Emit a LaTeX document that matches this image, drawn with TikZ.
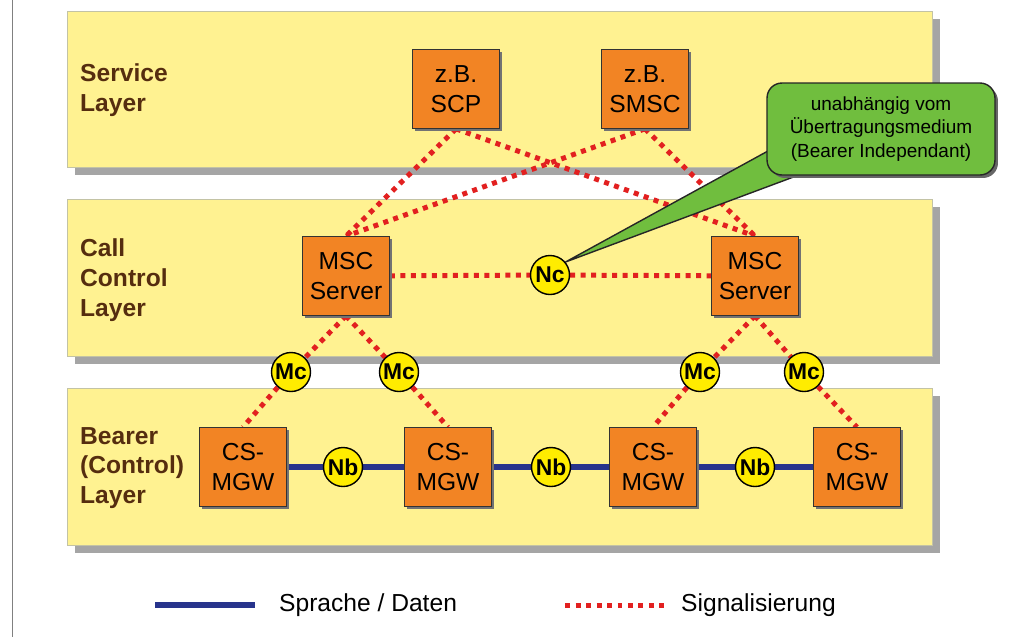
\documentclass[tikz,border=0pt]{standalone}
\usepackage{fontspec}
\setmainfont{Liberation Sans}
\usepackage{tikz}
\usetikzlibrary{shadows,calc}
\definecolor{LayerYellow}{RGB}{255,242,145}
\definecolor{LayerEdge}{RGB}{195,195,165}
\definecolor{ShadowGray}{RGB}{165,165,165}
\definecolor{BoxOrange}{RGB}{242,132,36}
\definecolor{SigRed}{RGB}{226,32,32}
\definecolor{DataBlue}{RGB}{40,52,140}
\definecolor{IfYellow}{RGB}{255,236,0}
\definecolor{NoteGreen}{RGB}{112,190,62}
\definecolor{LabelBrown}{RGB}{85,45,15}
\pgfdeclarelayer{back}
\pgfdeclarelayer{mid}
\pgfsetlayers{back,mid,main}

\begin{document}
\begin{tikzpicture}[x=0.02cm,y=-0.02cm,
  layer/.style={fill=LayerYellow, draw=LayerEdge,
    drop shadow={shadow xshift=0.16cm, shadow yshift=-0.16cm, fill=ShadowGray, opacity=1}},
  layerlabel/.style={anchor=west, align=left, text=LabelBrown,
    font=\bfseries\fontsize{14}{17}\selectfont},
  netbox/.style={rectangle, draw=black!80, fill=BoxOrange, minimum width=1.74cm,
    minimum height=1.58cm, inner sep=0pt, align=center, font=\fontsize{14}{17}\selectfont,
    drop shadow={shadow xshift=0.05cm, shadow yshift=-0.05cm, fill=black!55, opacity=1}},
  iface/.style={circle, draw=black, thick, fill=IfYellow, minimum size=0.78cm, inner sep=0pt,
    font=\bfseries\fontsize{13}{15}\selectfont},
  sig/.style={SigRed, line width=0.1cm, dash pattern=on 0.1cm off 0.11cm},
  data/.style={DataBlue, line width=0.12cm},
  note/.style={rectangle, rounded corners=0.3cm, draw=black!85, thick, fill=NoteGreen,
    minimum width=4.56cm, minimum height=1.84cm, align=center,
    font=\fontsize{10.8}{13.6}\selectfont,
    drop shadow={shadow xshift=0.06cm, shadow yshift=-0.06cm, fill=black!60, opacity=1}}]
\useasboundingbox (0,0) rectangle (1017,637);
\draw[gray] (12,0) -- (12,637);
%
\begin{pgfonlayer}{back}
\draw[layer] (67,11) rectangle (932,167);
\draw[layer] (67,199) rectangle (932,356);
\draw[layer] (67,388) rectangle (932,545);
\end{pgfonlayer}
%
\node[layerlabel] (servicelbl) at (74,90) {Service\\Layer};
\node[layerlabel] (calllbl) at (74,280) {Call\\Control\\Layer};
\node[layerlabel] (bearerlbl) at (74,468) {Bearer\\(Control)\\Layer};
%
\node[netbox] (scp) at (456,89) {z.B.\\SCP};
\node[netbox] (smsc) at (645,89) {z.B.\\SMSC};
\node[netbox] (mscA) at (346,276) {MSC\\Server};
\node[netbox] (mscB) at (755,276) {MSC\\Server};
\node[netbox] (mgwA) at (243,467) {CS-\\MGW};
\node[netbox] (mgwB) at (448,467) {CS-\\MGW};
\node[netbox] (mgwC) at (653,467) {CS-\\MGW};
\node[netbox] (mgwD) at (857,467) {CS-\\MGW};
%
\node[iface] (nc) at (550,275) {Nc};
\node[iface] (mcA) at (291,372) {Mc};
\node[iface] (mcB) at (399,372) {Mc};
\node[iface] (mcC) at (700,372) {Mc};
\node[iface] (mcD) at (804,372) {Mc};
\node[iface] (nbA) at (343,467) {Nb};
\node[iface] (nbB) at (551,467) {Nb};
\node[iface] (nbC) at (755,467) {Nb};
%
\node[note] (bearerind) at (881,129) {unabhängig vom\\Übertragungsmedium\\(Bearer Independant)};
%
\begin{pgfonlayer}{mid}
\draw[sig] (scp.south) -- (mscA.north);
\draw[sig] (scp.south) -- (mscB.north);
\draw[sig] (smsc.south) -- (mscA.north);
\draw[sig] (smsc.south) -- (mscB.north);
\draw[sig] (mscA) -- (nc);
\draw[sig] (nc) -- (mscB);
\draw[sig] (mscA.south) -- (mcA);
\draw[sig] (mcA) -- (mgwA.north);
\draw[sig] (mscA.south) -- (mcB);
\draw[sig] (mcB) -- (mgwB.north);
\draw[sig] (mscB.south) -- (mcC);
\draw[sig] (mcC) -- (mgwC.north);
\draw[sig] (mscB.south) -- (mcD);
\draw[sig] (mcD) -- (mgwD.north);
%
\draw[data] (mgwA) -- (nbA);
\draw[data] (nbA) -- (mgwB);
\draw[data] (mgwB) -- (nbB);
\draw[data] (nbB) -- (mgwC);
\draw[data] (mgwC) -- (nbC);
\draw[data] (nbC) -- (mgwD);
%
\filldraw[fill=NoteGreen, draw=black!85, thick] (nc.40) -- ($(bearerind.south west)+(4,-26)$)
  -- ($(bearerind.south west)+(36,-2)$) -- cycle;
\end{pgfonlayer}
%
\coordinate (dataS) at (155,605);
\coordinate (dataE) at (255,605);
\coordinate (sigS) at (565,605);
\coordinate (sigE) at (665,605);
\draw[data] (dataS) -- (dataE);
\draw[sig] (sigS) -- (sigE);
\node[anchor=west, font=\fontsize{14}{17}\selectfont] (datalbl) at (273,605) {Sprache / Daten};
\node[anchor=west, font=\fontsize{14}{17}\selectfont] (siglbl) at (675,605) {Signalisierung};
\end{tikzpicture}
\end{document}
